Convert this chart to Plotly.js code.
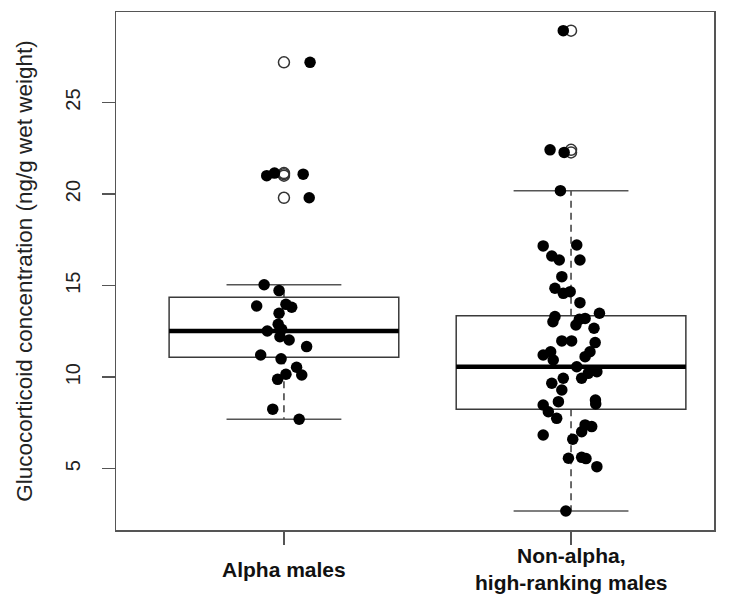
<!DOCTYPE html>
<html>
<head>
<meta charset="utf-8">
<script src="https://cdn.plot.ly/plotly-3.0.1.min.js"></script>
<style>html,body{margin:0;padding:0;background:#fff;}#chart{width:731px;height:596px;}</style>
</head>
<body>
<div id="chart"></div>
<script>
// ---- data ----
var categories = ['Alpha males', 'Non-alpha,<br>high-ranking males'];
var catPos = [1, 2];

// box statistics (lower whisker, Q1, median, Q3, upper whisker)
var lowerWhisker = [7.70, 2.69];
var q1 = [11.09, 8.25];
var median = [12.52, 10.57];
var q3 = [14.37, 13.36];
var upperWhisker = [15.05, 20.19];

// jittered observations
var alphaX = [1.091, 0.940, 0.967, 1.067, 1.088, 0.931, 0.983, 0.905, 1.007, 1.027,
              0.983, 0.980, 0.942, 0.992, 0.986, 1.018, 1.079, 0.919, 0.990, 1.044,
              1.062, 1.007, 0.978, 0.961, 1.053];
var alphaY = [27.20, 21.01, 21.15, 21.09, 19.80, 15.05, 14.73, 13.89, 13.98, 13.82,
              13.49, 12.89, 12.52, 12.62, 12.21, 12.03, 11.67, 11.21, 11.00, 10.54,
              10.12, 10.16, 9.88, 8.25, 7.70];

var nonAlphaX = [1.973, 1.927, 1.976, 1.963, 1.903, 2.020, 1.933, 1.959, 2.031, 1.968,
                 1.944, 1.973, 1.997, 2.031, 2.099, 1.944, 1.937, 2.029, 2.049, 2.017,
                 2.080, 1.968, 2.002, 2.084, 1.903, 1.929, 1.938, 2.066, 2.049, 2.020,
                 2.090, 2.060, 2.037, 1.973, 1.933, 1.968, 1.956, 2.085, 2.086, 1.903,
                 1.921, 1.950, 2.049, 2.072, 2.037, 1.903, 2.006, 1.991, 2.037, 2.052,
                 2.090, 1.982];
var nonAlphaY = [28.93, 22.42, 22.28, 20.19, 17.17, 17.22, 16.62, 16.40, 16.40, 15.49,
                 14.86, 14.58, 14.67, 14.07, 13.49, 13.31, 13.03, 13.16, 13.21, 12.85,
                 12.67, 11.98, 11.98, 11.89, 11.21, 11.39, 10.94, 11.39, 11.12, 10.57,
                 10.30, 10.21, 9.94, 9.94, 9.67, 9.30, 8.66, 8.75, 8.54, 8.48,
                 8.11, 7.75, 7.39, 7.30, 7.02, 6.84, 6.61, 5.57, 5.62, 5.55,
                 5.11, 2.69];

var yTicks = [5, 10, 15, 20, 25];
var yTitle = 'Glucocorticoid concentration (ng/g wet weight)';

// ---- derived drawing structures ----
var boxW = 0.8, capW = 0.2;
var lineCol = '#3a3a3a';

var whiskX = [], whiskY = [], capX = [], capY = [], medX = [], medY = [];
for (var i = 0; i < catPos.length; i++) {
  var c = catPos[i];
  whiskX.push(c, c, null, c, c, null);
  whiskY.push(q3[i], upperWhisker[i], null, q1[i], lowerWhisker[i], null);
  capX.push(c - capW, c + capW, null, c - capW, c + capW, null);
  capY.push(upperWhisker[i], upperWhisker[i], null, lowerWhisker[i], lowerWhisker[i], null);
  medX.push(c - boxW / 2, c + boxW / 2, null);
  medY.push(median[i], median[i], null);
}

// outliers: observations beyond the whiskers, drawn at the group centre
var outX = [], outY = [];
var groupsY = [alphaY, nonAlphaY];
for (var g = 0; g < groupsY.length; g++) {
  groupsY[g].forEach(function (v) {
    if (v > upperWhisker[g] + 1e-9 || v < lowerWhisker[g] - 1e-9) { outX.push(catPos[g]); outY.push(v); }
  });
}

var traces = [
  {
    type: 'box', x: catPos, q1: q1, median: median, q3: q3,
    lowerfence: q1, upperfence: q3, width: boxW, whiskerwidth: 0,
    line: {color: lineCol, width: 1.5}, fillcolor: 'rgba(0,0,0,0)',
    boxpoints: false, hoverinfo: 'skip', showlegend: false
  },
  {
    type: 'scatter', mode: 'lines', x: whiskX, y: whiskY,
    line: {color: lineCol, width: 1.5, dash: '7px,5px'}, hoverinfo: 'skip', showlegend: false
  },
  {
    type: 'scatter', mode: 'lines', x: capX, y: capY,
    line: {color: '#555', width: 1.5}, hoverinfo: 'skip', showlegend: false
  },
  {
    type: 'scatter', mode: 'lines', x: medX, y: medY,
    line: {color: '#000', width: 4.5}, hoverinfo: 'skip', showlegend: false
  },
  {
    type: 'scatter', mode: 'markers', x: outX, y: outY,
    marker: {symbol: 'circle-open', size: 11, color: '#333', line: {width: 1.5}},
    hoverinfo: 'skip', showlegend: false
  },
  {
    type: 'scatter', mode: 'markers', x: alphaX, y: alphaY,
    marker: {symbol: 'circle', size: 11.5, color: '#000'}, showlegend: false
  },
  {
    type: 'scatter', mode: 'markers', x: nonAlphaX, y: nonAlphaY,
    marker: {symbol: 'circle', size: 11.5, color: '#000'}, showlegend: false
  }
];

var annotations = categories.map(function (t, i) {
  return {
    x: catPos[i], xref: 'x', y: -0.076, yref: 'paper', yanchor: 'middle',
    text: '<b>' + t + '</b>', showarrow: false, align: 'center',
    font: {family: 'Liberation Sans, Arial, sans-serif', size: 21, color: '#111'}
  };
});

var layout = {
  width: 731, height: 596,
  margin: {l: 116, r: 17, t: 12, b: 66},
  paper_bgcolor: '#fff', plot_bgcolor: '#fff',
  font: {family: 'Liberation Sans, Arial, sans-serif', size: 20, color: '#222'},
  showlegend: false,
  xaxis: {
    type: 'linear', range: [0.415, 2.498], tickvals: catPos, ticktext: ['', ''],
    showticklabels: false, ticks: 'outside', ticklen: 13, tickwidth: 1.5, tickcolor: '#555',
    showline: true, linecolor: '#555', linewidth: 1.5, mirror: true,
    showgrid: false, zeroline: false, fixedrange: true
  },
  yaxis: {
    range: [1.65, 29.95], tickvals: yTicks, ticktext: yTicks.map(String),
    tickangle: -90, ticks: 'outside', ticklen: 13, tickwidth: 1.5, tickcolor: '#555',
    ticklabelstandoff: 14,
    tickfont: {size: 20, color: '#222'},
    showline: true, linecolor: '#555', linewidth: 1.5, mirror: true,
    showgrid: false, zeroline: false, fixedrange: true,
    title: {text: yTitle, font: {size: 22.5, color: '#222'}, standoff: 22}
  },
  annotations: annotations
};

Plotly.newPlot('chart', traces, layout, {displayModeBar: false, staticPlot: true});
</script>
</body>
</html>
